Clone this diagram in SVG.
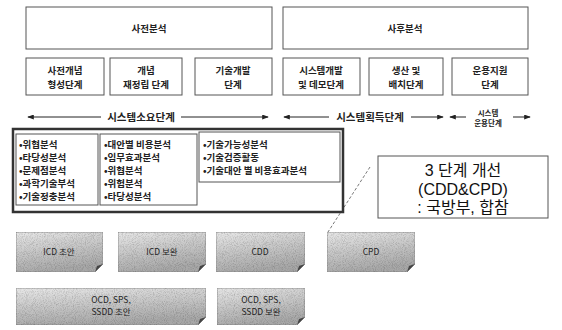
<svg xmlns="http://www.w3.org/2000/svg" width="562" height="330" viewBox="0 0 562 330">
<defs>
<style>
.box{fill:#fff;stroke:#555;stroke-width:1}
.t{font-family:"Noto Sans CJK KR","Liberation Sans",sans-serif;font-size:9.5px;font-weight:bold;fill:#222;text-anchor:middle}
.tl{font-family:"Noto Sans CJK KR","Liberation Sans",sans-serif;font-size:9.5px;font-weight:bold;fill:#222}
.big{font-family:"Liberation Sans","Noto Sans CJK KR",sans-serif;font-size:16px;fill:#111;text-anchor:middle}
.g{font-family:"Noto Sans CJK KR","Liberation Sans",sans-serif;font-size:8.5px;fill:#222;text-anchor:middle}
.note{fill:url(#gr);stroke:#888;stroke-width:0.8;filter:url(#grain)}
.fold{fill:#444}
.ln{stroke:#222;stroke-width:1;fill:none}
</style>
<linearGradient id="gr" x1="0" y1="0" x2="0.3" y2="1">
<stop offset="0" stop-color="#e8e8e8"/>
<stop offset="1" stop-color="#a8a8a8"/>
</linearGradient>
<filter id="grain" x="0" y="0" width="1" height="1">
<feTurbulence type="fractalNoise" baseFrequency="1.1" numOctaves="1" seed="3" result="n"/>
<feColorMatrix in="n" type="matrix" values="0.9 0 0 0 0.48  0.9 0 0 0 0.48  0.9 0 0 0 0.48  0 0 0 0 1" result="m"/>
<feBlend in="SourceGraphic" in2="m" mode="multiply" result="b"/>
<feComposite in="b" in2="SourceGraphic" operator="in"/>
</filter>
<marker id="ah" viewBox="0 0 8 6" refX="7" refY="3" markerWidth="7" markerHeight="5" orient="auto-start-reverse" markerUnits="userSpaceOnUse">
<path d="M0,0 L8,3 L0,6 Z" fill="#222"/>
</marker>
</defs>

<g id="pre-analysis"><rect class="box" x="26" y="7" width="246" height="42"/><text class="t" x="149" y="32">사전분석</text></g>
<g id="post-analysis"><rect class="box" x="283" y="7" width="245" height="42"/><text class="t" x="405" y="32">사후분석</text></g>

<g id="stage1"><rect class="box" x="26" y="58" width="78" height="37"/><text class="t" x="65" y="74">사전개념</text><text class="t" x="65" y="88">형성단계</text></g>
<g id="stage2"><rect class="box" x="110" y="58" width="72" height="37"/><text class="t" x="146" y="74">개념</text><text class="t" x="146" y="88">재정립 단계</text></g>
<g id="stage3"><rect class="box" x="195" y="58" width="77" height="37"/><text class="t" x="233" y="74">기술개발</text><text class="t" x="233" y="88">단계</text></g>
<g id="stage4"><rect class="box" x="283" y="58" width="77" height="37"/><text class="t" x="321" y="74">시스템개발</text><text class="t" x="321" y="88">및 데모단계</text></g>
<g id="stage5"><rect class="box" x="369" y="58" width="74" height="37"/><text class="t" x="406" y="74">생산 및</text><text class="t" x="406" y="88">배치단계</text></g>
<g id="stage6"><rect class="box" x="452" y="58" width="76" height="37"/><text class="t" x="490" y="74">운용지원</text><text class="t" x="490" y="88">단계</text></g>

<g id="phase-labels">
<text class="t" x="141" y="121" style="font-size:10.5px">시스템소요단계</text>
<text class="t" x="370" y="121" style="font-size:10.5px">시스템획득단계</text>
<text class="t" x="488" y="116" style="font-size:7.5px">시스템</text>
<text class="t" x="488" y="126" style="font-size:7.5px">운용단계</text>
</g>

<g id="connectors">
<line class="ln" x1="101" y1="117" x2="28" y2="117" marker-end="url(#ah)"/>
<line class="ln" x1="181" y1="117" x2="268" y2="117" marker-end="url(#ah)"/>
<line class="ln" x1="329" y1="117" x2="284" y2="117" marker-end="url(#ah)"/>
<line class="ln" x1="411" y1="117" x2="443" y2="117" marker-end="url(#ah)"/>
<line class="ln" x1="466" y1="117" x2="450" y2="117" marker-end="url(#ah)"/>
<line class="ln" x1="513" y1="117" x2="530" y2="117" marker-end="url(#ah)"/>
<line x1="370" y1="167" x2="328" y2="232" stroke="#555" stroke-width="0.8" stroke-dasharray="3 2"/>
</g>

<g id="req-group"><rect x="13" y="129" width="330" height="83" fill="#fff" stroke="#333" stroke-width="2.5"/></g>

<g id="list-a"><rect class="box" x="16" y="134" width="82" height="71"/>
<text class="tl" x="19" y="148">•위협분석</text>
<text class="tl" x="19" y="161">•타당성분석</text>
<text class="tl" x="19" y="174">•문제점분석</text>
<text class="tl" x="19" y="187">•과학기술부석</text>
<text class="tl" x="19" y="200">•기술정충분석</text>
</g>
<g id="list-b"><rect class="box" x="100" y="134" width="97" height="71"/>
<text class="tl" x="104" y="148">•대안별 비용분석</text>
<text class="tl" x="104" y="161">•임무효과분석</text>
<text class="tl" x="104" y="174">•위협분석</text>
<text class="tl" x="104" y="187">•위험분석</text>
<text class="tl" x="104" y="200">•타당성분석</text>
</g>
<g id="list-c"><rect class="box" x="199" y="132" width="141" height="50"/>
<text class="tl" x="203" y="148">•기술가능성분석</text>
<text class="tl" x="203" y="161">•기술검증활동</text>
<text class="tl" x="203" y="174">•기술대안 별 비용효과분석</text>
</g>

<g id="callout"><rect x="378" y="156" width="170" height="62" fill="#fff" stroke="#555" stroke-width="1"/>
<text class="big" x="463" y="176">3 단계 개선</text>
<text class="big" x="463" y="195">(CDD&amp;CPD)</text>
<text class="big" x="463" y="213">: 국방부, 합참</text>
</g>

<g id="icd-draft"><path class="note" d="M16,232 H103 V264 L95,272 H16 Z"/><path class="fold" d="M103,264 L95,272 L97,266 Z"/><text class="g" x="59" y="255">ICD 초안</text></g>
<g id="icd-supp"><path class="note" d="M118,232 H206 V264 L198,272 H118 Z"/><path class="fold" d="M206,264 L198,272 L200,266 Z"/><text class="g" x="162" y="255">ICD 보완</text></g>
<g id="cdd"><path class="note" d="M216,232 H305 V264 L297,272 H216 Z"/><path class="fold" d="M305,264 L297,272 L299,266 Z"/><text class="g" x="260" y="255">CDD</text></g>
<g id="cpd"><path class="note" d="M327,232 H415 V264 L407,272 H327 Z"/><path class="fold" d="M415,264 L407,272 L409,266 Z"/><text class="g" x="371" y="255">CPD</text></g>
<g id="ocd-draft"><path class="note" d="M16,288 H206 V317 L198,325 H16 Z"/><path class="fold" d="M206,317 L198,325 L200,319 Z"/><text class="g" x="111" y="303">OCD, SPS,</text><text class="g" x="111" y="315">SSDD 초안</text></g>
<g id="ocd-supp"><path class="note" d="M217,288 H305 V317 L297,325 H217 Z"/><path class="fold" d="M305,317 L297,325 L299,319 Z"/><text class="g" x="261" y="303">OCD, SPS,</text><text class="g" x="261" y="315">SSDD 보완</text></g>
</svg>
